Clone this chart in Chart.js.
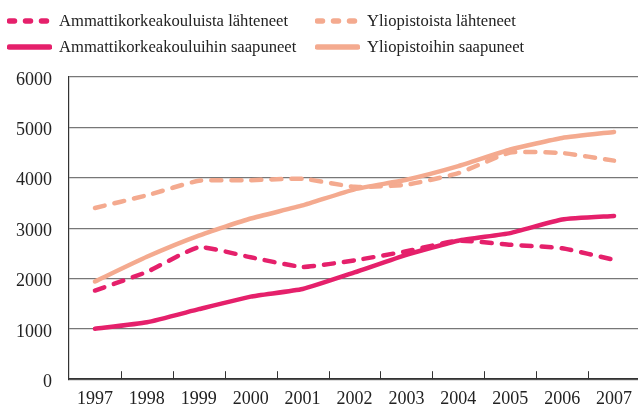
<!DOCTYPE html>
<html>
<head>
<meta charset="utf-8">
<script src="https://cdn.jsdelivr.net/npm/chart.js@4"></script>
<style>
  body { margin: 0; overflow: hidden; background: #fff; }
  #wrap { position: relative; width: 642px; height: 407px; }
  #legend { position: absolute; left: 0; top: 0; width: 642px; height: 60px;
    font-family: "Liberation Serif", serif; font-size: 16.6px; color: #222; }
  .item { position: absolute; display: flex; align-items: center; height: 20px; }
  .item svg { margin-right: 7px; }
</style>
</head>
<body>
<div id="wrap">
  <canvas id="chart" width="642" height="407"></canvas>
  <div id="legend"></div>
</div>
<script>
const years = ['1997', '1998', '1999', '2000', '2001', '2002', '2003', '2004', '2005', '2006', '2007'];
const amkLahteneet = [1760, 2130, 2620, 2420, 2230, 2360, 2540, 2750, 2670, 2600, 2370];
const amkSaapuneet = [1000, 1130, 1390, 1640, 1790, 2120, 2470, 2750, 2900, 3170, 3240];
const yoLahteneet = [3400, 3650, 3940, 3950, 3980, 3820, 3860, 4090, 4500, 4490, 4340];
const yoSaapuneet = [1940, 2430, 2850, 3190, 3450, 3770, 3960, 4230, 4560, 4790, 4910];
const yTicks = [0, 1000, 2000, 3000, 4000, 5000, 6000];

const pink = '#e5206b';
const salmon = '#f4aa8f';
const serif = '"Liberation Serif", serif';

const series = [
  { label: 'Ammattikorkeakouluista lähteneet', data: amkLahteneet, color: pink, dashed: true },
  { label: 'Yliopistoista lähteneet', data: yoLahteneet, color: salmon, dashed: true },
  { label: 'Ammattikorkeakouluihin saapuneet', data: amkSaapuneet, color: pink, dashed: false },
  { label: 'Yliopistoihin saapuneet', data: yoSaapuneet, color: salmon, dashed: false }
];

// legend: 2 columns x 2 rows, like the original
const legend = document.getElementById('legend');
const legendPos = [[7, 11], [315, 11], [7, 37], [315, 37]];
series.forEach((s, i) => {
  const el = document.createElement('div');
  el.className = 'item';
  el.style.left = legendPos[i][0] + 'px';
  el.style.top = legendPos[i][1] + 'px';
  const dash = s.dashed ? 'stroke-dasharray="5 11"' : '';
  el.innerHTML = '<svg width="45" height="10"><line x1="2.5" y1="5" x2="42.5" y2="5" stroke="' + s.color +
    '" stroke-width="5.5" stroke-linecap="round" ' + dash + '/></svg><span>' + s.label + '</span>';
  legend.appendChild(el);
});

// small tick marks pointing up from the x axis between years
const innerTicks = {
  id: 'innerTicks',
  afterDraw(chart) {
    const x = chart.scales.x;
    const ctx = chart.ctx;
    const bottom = chart.chartArea.bottom;
    ctx.save();
    ctx.strokeStyle = '#333';
    ctx.lineWidth = 1;
    ctx.beginPath();
    for (let i = 1; i < years.length; i++) {
      const px = Math.round((x.getPixelForTick(i - 1) + x.getPixelForTick(i)) / 2) + 0.5;
      ctx.moveTo(px, bottom);
      ctx.lineTo(px, bottom - 8);
    }
    ctx.stroke();
    ctx.restore();
  }
};

new Chart(document.getElementById('chart'), {
  type: 'line',
  data: {
    labels: years,
    datasets: series.map(s => ({
      label: s.label,
      data: s.data,
      borderColor: s.color,
      backgroundColor: s.color,
      borderWidth: 4.5,
      borderDash: s.dashed ? [10, 10] : [],
      borderCapStyle: 'round',
      borderJoinStyle: 'round',
      pointRadius: 0,
      tension: 0.15
    }))
  },
  options: {
    responsive: false,
    animation: false,
    layout: { padding: { top: 77, right: 2, left: 0, bottom: 0 } },
    plugins: { legend: { display: false }, tooltip: { enabled: false } },
    scales: {
      x: {
        offset: true,
        grid: { display: false },
        border: { display: true, color: '#333', width: 1.5 },
        ticks: { color: '#222', padding: 1, font: { family: serif, size: 18 } },
        afterFit(scale) { scale.height = 25; }
      },
      y: {
        min: 0,
        max: 6000,
        afterBuildTicks(scale) { scale.ticks = yTicks.map(v => ({ value: v })); },
        grid: { color: '#777', lineWidth: 1.2, drawTicks: false },
        border: { display: true, color: '#333', width: 1.2 },
        ticks: {
          color: '#222', padding: 17, labelOffset: 3, font: { family: serif, size: 18 },
          callback: v => String(v)
        },
        afterFit(scale) { scale.width = 69; }
      }
    }
  },
  plugins: [innerTicks]
});
</script>
</body>
</html>
